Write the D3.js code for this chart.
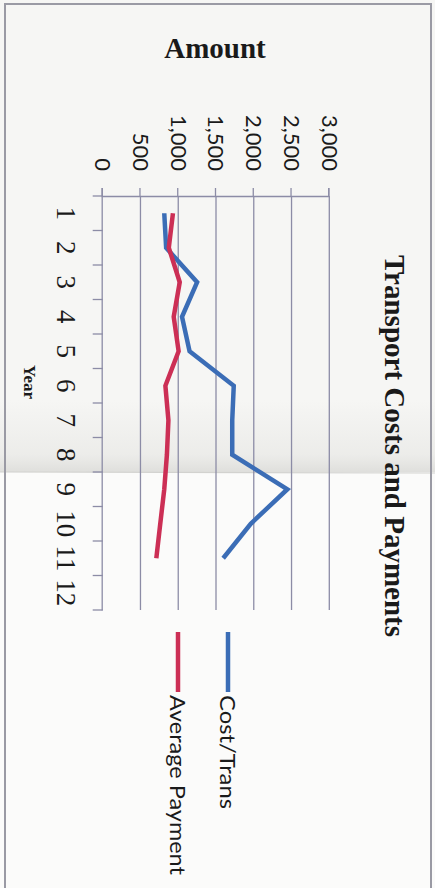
<!DOCTYPE html>
<html>
<head>
<meta charset="utf-8">
<script src="https://cdn.jsdelivr.net/npm/d3@7"></script>
<style>
  html, body { margin: 0; padding: 0; background: #ffffff; }
  svg { display: block; }
</style>
</head>
<body>
<svg id="chart" width="435" height="888"></svg>
<script>
// Chart data
const years = [1, 2, 3, 4, 5, 6, 7, 8, 9, 10, 11, 12];
const costPerTrans = [815, 840, 1250, 1050, 1150, 1735, 1715, 1715, 2445, 1960, 1595, null];
const averagePayment = [930, 875, 1020, 940, 1005, 830, 870, 850, 815, 762, 710, null];
const valueTicks = [0, 500, 1000, 1500, 2000, 2500, 3000];
const seriesNames = ["Cost/Trans", "Average Payment"];
const seriesColors = ["#3b6db6", "#cc2f55"];

const W = 435, H = 888;
const svg = d3.select("#chart");

// Paper background, crease shading and frame
const defs = svg.append("defs");
const fold = defs.append("linearGradient").attr("id", "fold")
  .attr("x1", 0).attr("y1", 0).attr("x2", 0).attr("y2", 1);
fold.append("stop").attr("offset", "0%").attr("stop-color", "#e6e6e3").attr("stop-opacity", 0);
fold.append("stop").attr("offset", "75%").attr("stop-color", "#e6e6e3").attr("stop-opacity", 0.6);
fold.append("stop").attr("offset", "100%").attr("stop-color", "#dcdcd9").attr("stop-opacity", 0.9);

svg.append("rect").attr("width", W).attr("height", H).attr("fill", "#f6f6f4");
svg.append("rect").attr("x", 0).attr("y", 472).attr("width", W).attr("height", H - 472).attr("fill", "#fbfbfa");
svg.append("rect").attr("x", 0).attr("y", 400).attr("width", W).attr("height", 72).attr("fill", "url(#fold)");
svg.append("line").attr("x1", 0).attr("x2", W).attr("y1", 472).attr("y2", 473)
  .attr("stroke", "#d2d2cf").attr("stroke-width", 1.2);
svg.append("rect").attr("x", 5).attr("y", 4).attr("width", 426).attr("height", 890)
  .attr("fill", "none").attr("stroke", "#9a9aa4").attr("stroke-width", 2);

// The chart is laid out in its own frame (888 wide, 435 tall) and turned a quarter clockwise
const g = svg.append("g").attr("transform", `translate(${W},0) rotate(90)`);

const plot = { left: 196, right: 610, top: 105.7, bottom: 332.3 };

const x = d3.scaleBand().domain(years).range([plot.left, plot.right]);
const y = d3.scaleLinear().domain([0, 3000]).range([plot.bottom, plot.top]);

const gridColor = "#8c8ca6";
const textColor = "#1a1a1a";

// Horizontal gridlines
g.append("g").selectAll("line")
  .data(valueTicks.filter(v => v > 0))
  .join("line")
  .attr("x1", plot.left).attr("x2", plot.right)
  .attr("y1", d => y(d)).attr("y2", d => y(d))
  .attr("stroke", gridColor).attr("stroke-width", 1.3);

// Value axis
const yAxis = g.append("g")
  .attr("transform", `translate(${plot.left},0)`)
  .call(d3.axisLeft(y).tickValues(valueTicks).tickFormat(d3.format(",")).tickSize(8).tickPadding(17));
yAxis.select(".domain").attr("stroke", gridColor).attr("stroke-width", 1.3);
yAxis.selectAll(".tick line").attr("stroke", gridColor).attr("stroke-width", 1.3);
yAxis.selectAll("text")
  .attr("fill", textColor)
  .style("font-family", "Lato, 'Open Sans', sans-serif")
  .style("font-size", "22px");

// Category axis
const xAxis = g.append("g")
  .attr("transform", `translate(0,${plot.bottom})`)
  .call(d3.axisBottom(x).tickSize(0));
xAxis.select(".domain").attr("stroke", gridColor).attr("stroke-width", 1.3);
xAxis.selectAll("text")
  .attr("y", 46).attr("dy", 0)
  .attr("fill", textColor)
  .style("font-family", "'Liberation Serif', 'Times New Roman', serif")
  .style("font-size", "27px");
// Tick marks between categories
const boundaries = years.map(d => x(d)).concat([x.range()[1]]);
xAxis.append("g").selectAll("line")
  .data(boundaries)
  .join("line")
  .attr("x1", d => d).attr("x2", d => d)
  .attr("y1", 0).attr("y2", 10)
  .attr("stroke", gridColor).attr("stroke-width", 1.3);

// Series lines
const line = d3.line()
  .defined(d => d.v != null)
  .x(d => x(d.year) + x.bandwidth() / 2)
  .y(d => y(d.v));

[costPerTrans, averagePayment].forEach((vals, i) => {
  g.append("path")
    .datum(years.map((yr, j) => ({ year: yr, v: vals[j] })))
    .attr("fill", "none")
    .attr("stroke", seriesColors[i])
    .attr("stroke-width", 4.5)
    .attr("stroke-linejoin", "miter")
    .attr("d", line);
});

// Titles
g.append("text")
  .attr("x", 446).attr("y", 50)
  .attr("text-anchor", "middle")
  .attr("fill", textColor)
  .style("font-family", "'Liberation Serif', 'Times New Roman', serif")
  .style("font-weight", "bold")
  .style("font-size", "29px")
  .text("Transport Costs and Payments");

g.append("text")
  .attr("transform", `translate(58,${(plot.top + plot.bottom) / 2 + 1}) rotate(-90)`)
  .attr("text-anchor", "middle")
  .attr("fill", textColor)
  .style("font-family", "'Liberation Serif', 'Times New Roman', serif")
  .style("font-weight", "bold")
  .style("font-size", "29px")
  .text("Amount");

g.append("text")
  .attr("x", 382).attr("y", 411)
  .attr("text-anchor", "middle")
  .attr("fill", textColor)
  .style("font-family", "'Liberation Serif', 'Times New Roman', serif")
  .style("font-weight", "bold")
  .style("font-size", "17px")
  .text("Year");

// Legend
const legendY = [207, 257];
const legendLen = [114, 180];
seriesNames.forEach((name, i) => {
  const lg = g.append("g").attr("transform", `translate(632,${legendY[i]})`);
  lg.append("line")
    .attr("x1", 0).attr("x2", 60).attr("y1", 0).attr("y2", 0)
    .attr("stroke", seriesColors[i]).attr("stroke-width", 4.5);
  lg.append("text")
    .attr("x", 63).attr("y", 0).attr("dy", "0.36em")
    .attr("fill", textColor)
    .attr("textLength", legendLen[i])
    .attr("lengthAdjust", "spacingAndGlyphs")
    .style("font-family", "Lato, 'Open Sans', sans-serif")
    .style("font-size", "22px")
    .text(name);
});
</script>
</body>
</html>
